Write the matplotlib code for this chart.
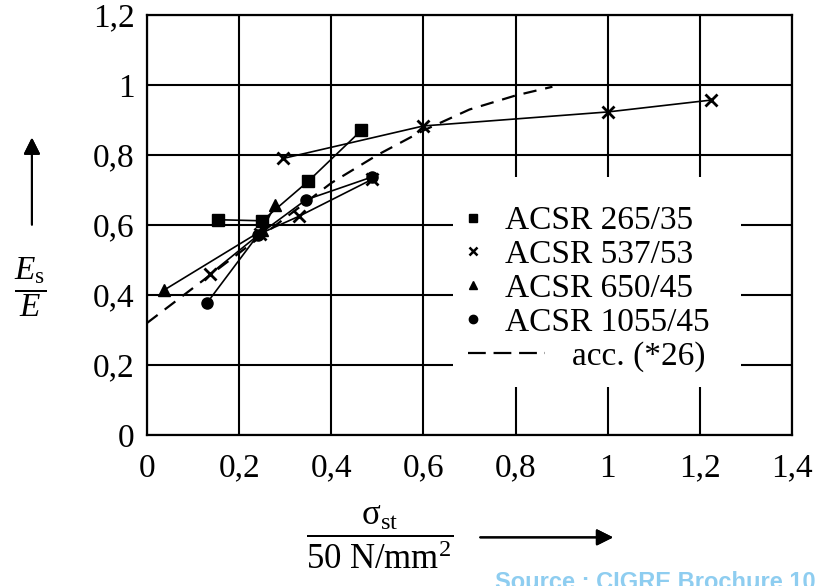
import numpy as np
import matplotlib
matplotlib.use('Agg')
import matplotlib.pyplot as plt
from matplotlib.lines import Line2D
from matplotlib.patches import Rectangle
from matplotlib.legend_handler import HandlerLine2D

plt.rcParams['font.family'] = ['Liberation Serif', 'DejaVu Serif']
plt.rcParams['mathtext.fontset'] = 'custom'
plt.rcParams['mathtext.rm'] = 'Liberation Serif'
plt.rcParams['mathtext.it'] = 'Liberation Serif:italic'

# ACSR 265/35 (squares)
sq_x = [0.155, 0.25, 0.35, 0.465]
sq_y = [0.615, 0.612, 0.725, 0.87]
# ACSR 537/53 (crosses), lower branch and upper branch
cr_lo_x = [0.137, 0.245, 0.33, 0.488]
cr_lo_y = [0.46, 0.575, 0.625, 0.73]
cr_hi_x = [0.295, 0.6, 1.0, 1.225]
cr_hi_y = [0.79, 0.883, 0.923, 0.957]
# ACSR 650/45 (triangles)
tr_x = [0.037, 0.25, 0.278]
tr_y = [0.414, 0.585, 0.657]
# ACSR 1055/45 (circles)
ci_x = [0.13, 0.24, 0.345, 0.488]
ci_y = [0.377, 0.57, 0.672, 0.737]
# acc. (*26)
acc_x = [0.0, 0.1, 0.2, 0.3, 0.4, 0.5, 0.6, 0.7, 0.8, 0.88]
acc_y = [0.32, 0.42, 0.52, 0.62, 0.72, 0.80, 0.87, 0.93, 0.97, 0.995]

x_ticks = [0, 0.2, 0.4, 0.6, 0.8, 1.0, 1.2, 1.4]
x_labels = ['0', '0,2', '0,4', '0,6', '0,8', '1', '1,2', '1,4']
y_ticks = [0, 0.2, 0.4, 0.6, 0.8, 1.0, 1.2]
y_labels = ['0', '0,2', '0,4', '0,6', '0,8', '1', '1,2']
names = ['ACSR 265/35', 'ACSR 537/53', 'ACSR 650/45', 'ACSR 1055/45', 'acc. (*26)']


class LongDash(HandlerLine2D):
    # stretch the dashed handle to the left of its (space padded) label
    def create_artists(self, legend, orig_handle, xdescent, ydescent, width, height, fontsize, trans):
        return super().create_artists(legend, orig_handle, xdescent - 0.3 * width, ydescent,
                                      width * 2.9, height, fontsize, trans)


fig = plt.figure(figsize=(8.19, 5.86), dpi=100)
ax = fig.add_axes([0.1795, 0.2577, 0.7875, 0.7167])

lw = 1.2
ax.plot(sq_x, sq_y, color='black', lw=lw, marker='s', ms=9)
ax.plot(cr_lo_x, cr_lo_y, color='black', lw=lw, marker='x', ms=8, mew=2)
ax.plot(cr_hi_x, cr_hi_y, color='black', lw=lw, marker='x', ms=8, mew=2)
ax.plot(tr_x, tr_y, color='black', lw=lw, marker='^', ms=9)
ax.plot(ci_x, ci_y, color='black', lw=lw, marker='o', ms=8)
ax.plot(acc_x, acc_y, color='black', lw=1.6, ls=(0, (6, 4)))

ax.set_xlim(0, 1.4)
ax.set_ylim(0, 1.2)
ax.set_xticks(x_ticks)
ax.set_xticklabels(x_labels)
ax.set_yticks(y_ticks)
ax.set_yticklabels(y_labels)
ax.tick_params(length=0, labelsize=24)
ax.tick_params(axis='x', pad=13)
ax.tick_params(axis='y', pad=9)
ax.grid(True, color='black', lw=1.5)
ax.set_axisbelow(True)
for s in ax.spines.values():
    s.set_linewidth(1.6)

# white area behind the legend, cutting the grid
ax.add_patch(Rectangle((0.664, 0.137), 0.626, 0.6, facecolor='white', edgecolor='none', zorder=1))

handles = [
    Line2D([], [], color='black', ls='none', marker='s', ms=6),
    Line2D([], [], color='black', ls='none', marker='x', ms=6, mew=1.8),
    Line2D([], [], color='black', ls='none', marker='^', ms=6),
    Line2D([], [], color='black', ls='none', marker='o', ms=6),
    Line2D([], [], color='black', lw=1.6, ls=(0, (8, 3.5))),
]
labels = names[:4] + ['        ' + names[4]]
leg = ax.legend(handles, labels, loc='upper left', bbox_to_anchor=(0.679, 0.655),
                bbox_transform=ax.transData, borderaxespad=0, borderpad=0, fontsize=24,
                handlelength=0.8, handletextpad=0.55, labelspacing=0.1,
                frameon=False, handler_map={handles[4]: LongDash()})

# y label: E_s / E with arrow
fig.text(0.037, 0.51, r'$\dfrac{E_\mathrm{s}}{E}$', fontsize=24, ha='center', va='center')
fig.add_artist(plt.annotate('', xy=(0.039, 0.77), xytext=(0.039, 0.612), xycoords='figure fraction',
                            arrowprops=dict(arrowstyle='-|>', color='black', lw=1.5, mutation_scale=25)))

# x label: sigma_st / 50 N/mm2 with arrow
fig.text(0.463, 0.083, r'$\dfrac{\mathrm{σ_{st}}}{\mathrm{50\ N/mm^2}}$', fontsize=25, ha='center', va='center')
fig.add_artist(plt.annotate('', xy=(0.752, 0.083), xytext=(0.583, 0.083), xycoords='figure fraction',
                            arrowprops=dict(arrowstyle='-|>', color='black', lw=1.5, mutation_scale=25)))

fig.text(0.605, 0.006, 'Source : CIGRE Brochure 10', fontsize=17, fontweight='bold',
         color='#8ecdf0', family='Liberation Sans', ha='left', va='center')

fig.savefig('out.png', dpi=100)
